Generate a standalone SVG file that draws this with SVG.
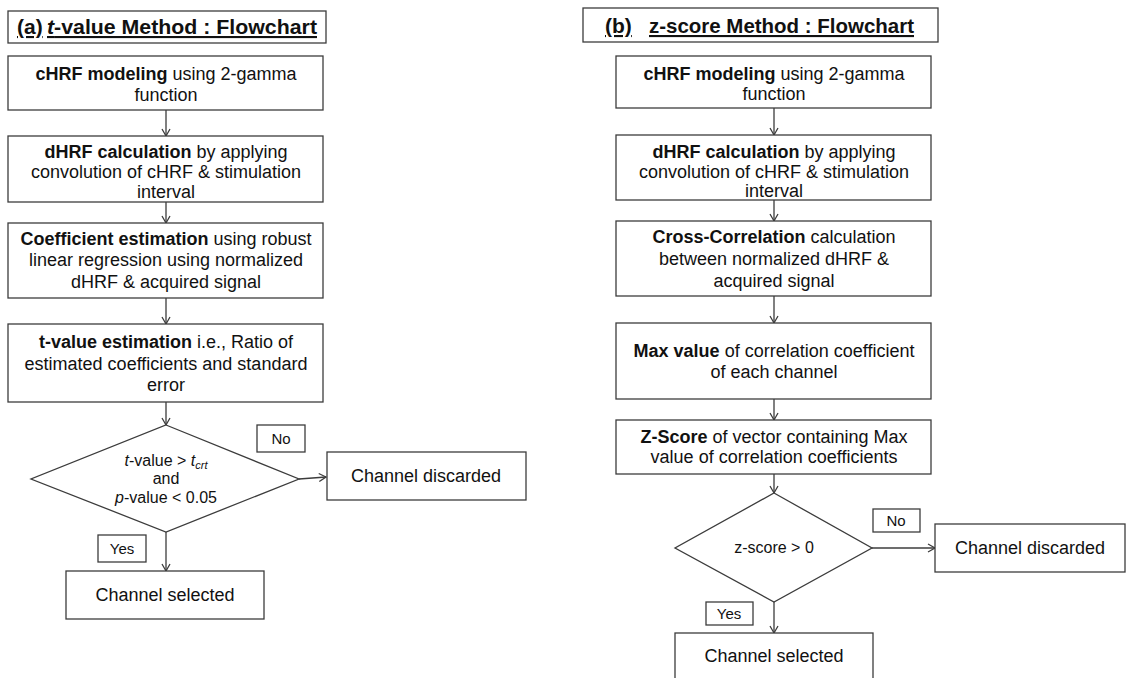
<svg xmlns="http://www.w3.org/2000/svg" width="1127" height="678" viewBox="0 0 1127 678">
<style>
.box{fill:#fff;stroke:#3c3c3c;stroke-width:1.3}
.t{font-family:"Liberation Sans",Arial,sans-serif;font-size:18px;fill:#111;text-anchor:middle}
.d{font-size:16px}
.s{font-size:15px}
.b{font-weight:bold}
.i{font-style:italic}
.title{font-family:"Liberation Sans",Arial,sans-serif;font-size:21px;font-weight:bold;fill:#111;text-decoration:underline}
.c{fill:none;stroke:#3c3c3c;stroke-width:1.3}
</style>
<defs>
<marker id="ah" markerWidth="10" markerHeight="10" refX="8" refY="5" orient="auto" markerUnits="userSpaceOnUse">
<path d="M1,1 L8,5 L1,9" fill="none" stroke="#3c3c3c" stroke-width="1.3"/>
</marker>
</defs>
<rect width="1127" height="678" fill="#fff"/>

<g id="connectors">
<line class="c" x1="166" y1="110" x2="166" y2="136" marker-end="url(#ah)"/>
<line class="c" x1="166" y1="202" x2="166" y2="223" marker-end="url(#ah)"/>
<line class="c" x1="166" y1="298" x2="166" y2="324" marker-end="url(#ah)"/>
<line class="c" x1="166" y1="402" x2="166" y2="425" marker-end="url(#ah)"/>
<polyline class="c" points="299,479 326,477" marker-end="url(#ah)"/>
<line class="c" x1="166" y1="532" x2="166" y2="571" marker-end="url(#ah)"/>
<line class="c" x1="774" y1="108" x2="774" y2="135" marker-end="url(#ah)"/>
<line class="c" x1="774" y1="200" x2="774" y2="221" marker-end="url(#ah)"/>
<line class="c" x1="774" y1="296" x2="774" y2="323" marker-end="url(#ah)"/>
<line class="c" x1="774" y1="399" x2="774" y2="420" marker-end="url(#ah)"/>
<line class="c" x1="774" y1="474" x2="774" y2="493" marker-end="url(#ah)"/>
<line class="c" x1="872" y1="548" x2="935" y2="548" marker-end="url(#ah)"/>
<line class="c" x1="774" y1="602" x2="774" y2="633" marker-end="url(#ah)"/>
</g>

<g id="title-a">
<rect class="box" x="8" y="11" width="318" height="32"/>
<text class="title" x="17" y="34">(a)</text>
<text class="title" x="47" y="34" textLength="270" lengthAdjust="spacingAndGlyphs"><tspan class="i">t</tspan>-value Method : Flowchart</text>
</g>
<g id="a1">
<rect class="box" x="8" y="56" width="315" height="54"/>
<text class="t" x="166" y="80"><tspan class="b">cHRF modeling</tspan> using 2-gamma</text>
<text class="t" x="166" y="101">function</text>
</g>
<g id="a2">
<rect class="box" x="8" y="136" width="315" height="66"/>
<text class="t" x="166" y="158"><tspan class="b">dHRF calculation</tspan> by applying</text>
<text class="t" x="166" y="178">convolution of cHRF &amp; stimulation</text>
<text class="t" x="166" y="198">interval</text>
</g>
<g id="a3">
<rect class="box" x="8" y="223" width="315" height="75"/>
<text class="t" x="166" y="245"><tspan class="b">Coefficient estimation</tspan> using robust</text>
<text class="t" x="166" y="266">linear regression using normalized</text>
<text class="t" x="166" y="288">dHRF &amp; acquired signal</text>
</g>
<g id="a4">
<rect class="box" x="8" y="324" width="315" height="78"/>
<text class="t" x="166" y="348"><tspan class="b">t-value estimation</tspan> i.e., Ratio of</text>
<text class="t" x="166" y="370">estimated coefficients and standard</text>
<text class="t" x="166" y="391">error</text>
</g>
<g id="a-decision">
<polygon class="box" points="166,425 299,479 166,532 31,479"/>
<text class="t d" x="166" y="466"><tspan class="i">t</tspan>-value &gt; <tspan class="i">t</tspan><tspan class="i" font-size="11" dy="3">crt</tspan></text>
<text class="t d" x="166" y="484">and</text>
<text class="t d" x="166" y="503"><tspan class="i">p</tspan>-value &lt; 0.05</text>
</g>
<g id="a-no">
<rect class="box" x="257" y="425" width="48" height="27"/>
<text class="t s" x="281" y="444">No</text>
</g>
<g id="a-discarded">
<rect class="box" x="327" y="452" width="199" height="48"/>
<text class="t" x="426" y="482">Channel discarded</text>
</g>
<g id="a-yes">
<rect class="box" x="98" y="535" width="48" height="27"/>
<text class="t s" x="122" y="554">Yes</text>
</g>
<g id="a-selected">
<rect class="box" x="66" y="571" width="198" height="48"/>
<text class="t" x="165" y="601">Channel selected</text>
</g>

<g id="title-b">
<rect class="box" x="583" y="8" width="355" height="34"/>
<text class="title" x="605" y="33">(b)</text>
<text class="title" x="649" y="33" textLength="265" lengthAdjust="spacingAndGlyphs">z-score Method : Flowchart</text>
</g>
<g id="b1">
<rect class="box" x="616" y="56" width="315" height="52"/>
<text class="t" x="774" y="80"><tspan class="b">cHRF modeling</tspan> using 2-gamma</text>
<text class="t" x="774" y="100">function</text>
</g>
<g id="b2">
<rect class="box" x="616" y="135" width="315" height="65"/>
<text class="t" x="774" y="158"><tspan class="b">dHRF calculation</tspan> by applying</text>
<text class="t" x="774" y="178">convolution of cHRF &amp; stimulation</text>
<text class="t" x="774" y="197">interval</text>
</g>
<g id="b3">
<rect class="box" x="616" y="221" width="315" height="75"/>
<text class="t" x="774" y="243"><tspan class="b">Cross-Correlation</tspan> calculation</text>
<text class="t" x="774" y="265">between normalized dHRF &amp;</text>
<text class="t" x="774" y="287">acquired signal</text>
</g>
<g id="b4">
<rect class="box" x="616" y="323" width="315" height="76"/>
<text class="t" x="774" y="357"><tspan class="b">Max value</tspan> of correlation coefficient</text>
<text class="t" x="774" y="378">of each channel</text>
</g>
<g id="b5">
<rect class="box" x="616" y="420" width="315" height="54"/>
<text class="t" x="774" y="443"><tspan class="b">Z-Score</tspan> of vector containing Max</text>
<text class="t" x="774" y="463">value of correlation coefficients</text>
</g>
<g id="b-decision">
<polygon class="box" points="774,493 872,548 774,602 675,548"/>
<text class="t d" x="774" y="553">z-score &gt; 0</text>
</g>
<g id="b-no">
<rect class="box" x="873" y="509" width="47" height="23"/>
<text class="t s" x="896" y="526">No</text>
</g>
<g id="b-discarded">
<rect class="box" x="935" y="524" width="190" height="48"/>
<text class="t" x="1030" y="554">Channel discarded</text>
</g>
<g id="b-yes">
<rect class="box" x="706" y="602" width="47" height="23"/>
<text class="t s" x="729" y="619">Yes</text>
</g>
<g id="b-selected">
<rect class="box" x="675" y="633" width="198" height="50"/>
<text class="t" x="774" y="662">Channel selected</text>
</g>
</svg>
